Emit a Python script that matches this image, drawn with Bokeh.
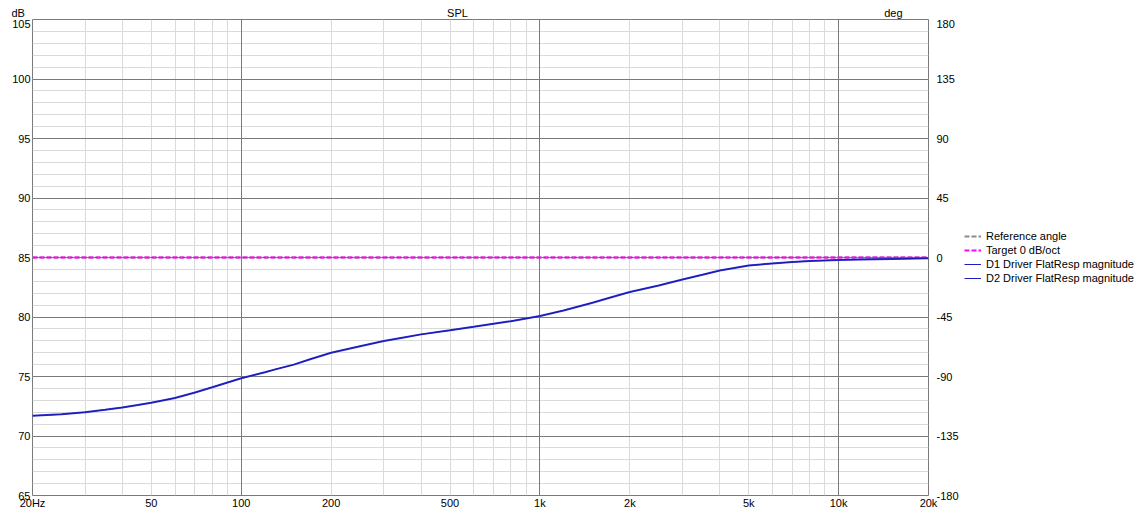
from bokeh.plotting import figure
from bokeh.layouts import column, row
from bokeh.models import (LinearAxis, Range1d, FixedTicker, Legend, LegendItem, Grid)
from bokeh.core.properties import value
from bokeh.embed import file_html
from bokeh.resources import INLINE

# ---------------- data ----------------
freq = [20, 25, 30, 35, 40, 45, 50, 60, 70, 80, 90, 100, 120, 130, 150, 170, 200, 250,
        300, 350, 400, 500, 600, 700, 800, 1000, 1200, 1500, 1700, 2000, 2500, 3000,
        3500, 4000, 5000, 6000, 7000, 8000, 10000, 12000, 15000, 20000]
spl_d1 = [71.7, 71.82, 72.0, 72.2, 72.4, 72.6, 72.8, 73.2, 73.65, 74.1, 74.5, 74.85,
          75.35, 75.6, 76.0, 76.45, 77.0, 77.55, 77.98, 78.28, 78.54, 78.88, 79.18,
          79.44, 79.65, 80.08, 80.55, 81.2, 81.6, 82.1, 82.65, 83.15, 83.55, 83.9,
          84.33, 84.5, 84.62, 84.7, 84.8, 84.84, 84.88, 84.93]
spl_d2 = list(spl_d1)
target_freq = [20, 20000]
target_db = [85, 85]
ref_angle_freq = [20, 20000]
ref_angle_deg = [0, 0]

x_ticks = [20, 50, 100, 200, 500, 1000, 2000, 5000, 10000, 20000]
x_tick_labels = ["20Hz", "50", "100", "200", "500", "1k", "2k", "5k", "10k", "20k"]
x_major_grid = [100, 1000, 10000]
x_minor_grid = [30, 40, 50, 60, 70, 80, 90,
                200, 300, 400, 500, 600, 700, 800, 900,
                2000, 3000, 4000, 5000, 6000, 7000, 8000, 9000]
db_ticks = [65, 70, 75, 80, 85, 90, 95, 100, 105]
db_minor = list(range(65, 106))
deg_ticks = [-180, -135, -90, -45, 0, 45, 90, 135, 180]
deg_labels = ["-180", "-135", "-90", "-45", "0", "45", "90", "135", "180"]

header_texts = ["dB", "SPL", "deg"]
header_x = [20, 632.5, 20000]
header_align = ["left", "center", "right"]
header_xoff = [2, 0, -3]

legend_labels = ["Reference angle", "Target 0 dB/oct",
                 "D1 Driver FlatResp magnitude", "D2 Driver FlatResp magnitude"]

FONT = "Liberation Sans"
MAJ = "#7a7a7a"
MIN = "#dadada"
FRAME_W = 896
FRAME_H = 476
HEADER_H = 19
HEADER_BASELINE_PX = 7   # baseline distance above the header bottom

STYLES = [dict(line_color="#8c8c8c", line_width=2, line_dash="5 2"),
          dict(line_color="#ff00ff", line_width=2, line_dash="5 2"),
          dict(line_color="#3434dc", line_width=2),
          dict(line_color="#1a1aa8", line_width=1)]
LEGEND_STYLES = [dict(line_color="#8c8c8c", line_width=2, line_dash="5 2"),
                 dict(line_color="#ff00ff", line_width=2, line_dash="5 2"),
                 dict(line_color="#1c1cc0", line_width=1),
                 dict(line_color="#1c1cc0", line_width=1)]


def style_left_axis(ax, hidden=False):
    ax.ticker = FixedTicker(ticks=db_ticks, minor_ticks=db_minor)
    ax.axis_line_color = None
    ax.major_tick_line_color = None
    ax.minor_tick_line_color = None
    ax.major_tick_out = 0
    ax.major_tick_in = 0
    ax.minor_tick_out = 0
    ax.minor_tick_in = 0
    ax.major_label_standoff = 2
    ax.major_label_text_font = FONT
    ax.major_label_text_font_size = "11px"
    ax.major_label_text_color = "black"
    if hidden:
        ax.major_label_text_alpha = 0
    ax.axis_label = " "
    ax.axis_label_text_font_size = "1px"
    ax.axis_label_standoff = 5


# ---------------- main plot ----------------
p = figure(x_axis_type="log", x_range=(20, 20000), y_range=(65, 105),
           frame_width=FRAME_W, frame_height=FRAME_H,
           output_backend="svg", toolbar_location=None,
           background_fill_color="white", border_fill_color="white")
p.outline_line_color = MAJ
p.outline_line_width = 1
p.min_border = 0

p.extra_y_ranges = {"deg": Range1d(-180, 180)}

xa = p.xaxis[0]
xa.ticker = FixedTicker(ticks=x_ticks, minor_ticks=[])
xa.major_label_overrides = {t: l for t, l in zip(x_ticks, x_tick_labels)}
xa.axis_line_color = None
xa.major_tick_line_color = None
xa.minor_tick_line_color = None
xa.major_tick_out = 0
xa.major_label_standoff = 1
xa.major_label_text_font = FONT
xa.major_label_text_font_size = "11px"
xa.major_label_text_color = "black"

style_left_axis(p.yaxis[0])

ra = LinearAxis(y_range_name="deg", ticker=FixedTicker(ticks=deg_ticks, minor_ticks=[]))
ra.major_label_overrides = {t: l for t, l in zip(deg_ticks, deg_labels)}
ra.axis_line_color = None
ra.major_tick_line_color = None
ra.minor_tick_line_color = None
ra.major_tick_out = 0
ra.major_label_standoff = 8
ra.major_label_text_font = FONT
ra.major_label_text_font_size = "11px"
ra.major_label_text_color = "black"
p.add_layout(ra, "right")

# grids: minor first, then major on top
xg = p.xgrid[0]
xg.ticker = FixedTicker(ticks=x_major_grid, minor_ticks=x_minor_grid)
xg.grid_line_color = None
xg.minor_grid_line_color = MIN
yg = p.ygrid[0]
yg.ticker = FixedTicker(ticks=db_ticks, minor_ticks=db_minor)
yg.grid_line_color = None
yg.minor_grid_line_color = MIN
p.add_layout(Grid(dimension=0, ticker=FixedTicker(ticks=x_major_grid), grid_line_color=MAJ))
p.add_layout(Grid(dimension=1, ticker=FixedTicker(ticks=db_ticks), grid_line_color=MAJ))

p.line(ref_angle_freq, ref_angle_deg, y_range_name="deg", **STYLES[0])
p.line(target_freq, target_db, **STYLES[1])
p.line(freq, spl_d1, **STYLES[2])
p.line(freq, spl_d2, **STYLES[3])

# ---------------- header strip (title + units) ----------------
h = figure(x_axis_type="log", x_range=p.x_range, y_range=(0, HEADER_H),
           frame_width=FRAME_W, frame_height=HEADER_H, x_axis_location=None,
           output_backend="svg", toolbar_location=None,
           background_fill_color="white", border_fill_color="white")
h.min_border = 0
h.outline_line_color = None
h.grid.visible = False
# invisible copy of the dB axis so the header lines up with the main frame
hy = h.yaxis[0]
style_left_axis(hy, hidden=True)
hy.ticker = FixedTicker(ticks=[HEADER_H / 2], minor_ticks=[])
hy.major_label_overrides = {HEADER_H / 2: "105"}
h.text(x=header_x, y=[HEADER_BASELINE_PX] * 3, text=header_texts, x_offset=header_xoff,
       text_align=header_align, text_baseline="alphabetic",
       text_font=value(FONT), text_font_size="11px", text_color="black")

# ---------------- legend strip (to the right of the phase axis) ----------------
lf = figure(frame_width=174, frame_height=FRAME_H, x_axis_location=None, y_axis_location=None,
            x_range=(0, 1), y_range=(0, 1),
            output_backend="svg", toolbar_location=None,
            background_fill_color="white", border_fill_color="white")
lf.min_border = 0
lf.outline_line_color = None
lf.grid.visible = False
items = []
for lab, st in zip(legend_labels, LEGEND_STYLES):
    # legend proxy: placed outside the strip's visible range
    r = lf.line(x=[2, 3], y=[2, 2], **st)
    items.append(LegendItem(label=lab, renderers=[r]))
legend = Legend(items=items, location="center_left")
legend.background_fill_alpha = 0
legend.border_line_color = None
legend.padding = 0
legend.margin = 3
legend.spacing = 0
legend.label_height = 14
legend.glyph_height = 14
legend.glyph_width = 17
legend.label_standoff = 5
legend.label_text_font = FONT
legend.label_text_font_size = "11px"
legend.label_text_color = "black"
lf.add_layout(legend, "center")

layout = column(h, row(p, lf, spacing=0), spacing=0)
open("out.html", "w").write(file_html(layout, INLINE))
